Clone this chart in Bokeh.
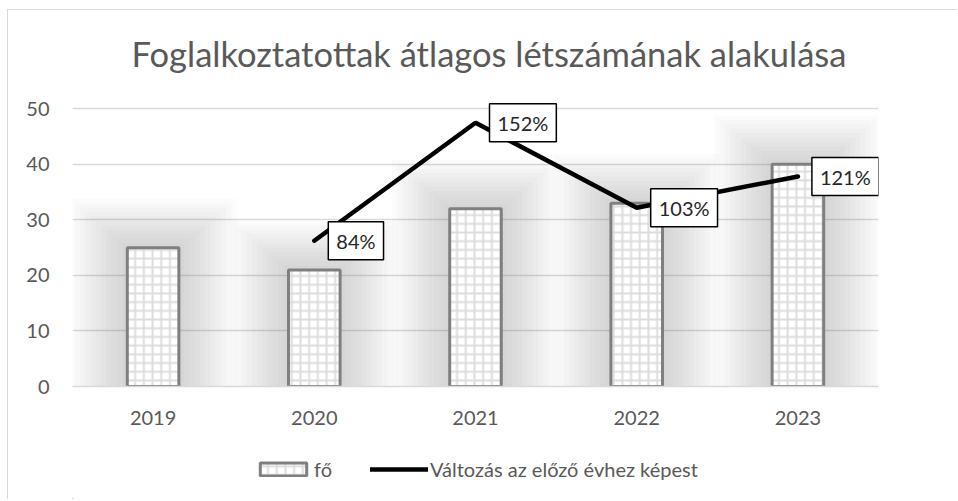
from bokeh.plotting import figure
from bokeh.models import Range1d, Legend, LegendItem, Label
from bokeh.layouts import column
from bokeh.embed import file_html
from bokeh.resources import INLINE

# ---- data ----
years = ["2019", "2020", "2021", "2022", "2023"]
fo = [25, 21, 32, 33, 40]
chg_years = ["2020", "2021", "2022", "2023"]
chg_pct = [84, 152, 103, 121]
chg_labels = ["84%", "152%", "103%", "121%"]
y_ticks = [0, 10, 20, 30, 40, 50]
title_text = "Foglalkoztatottak átlagos létszámának alakulása"
series_names = ["fő", "Változás az előző évhez képest"]

FONT = "Lato"
GREY_TXT = "#595959"
W = 949
OX, OY = 8, 10                       # inner origin of the chart on the page
H_T, H_M, H_L = 78, 357, 54          # title / main / legend strips
FL, FR, FB = 72, 878, 386            # frame edges on the page
PX_PER_UNIT = 5.553                  # vertical scale of the left axis
Y_TOP = 51.5                         # a little head-room so labels are not clipped
FT = FB - Y_TOP * PX_PER_UNIT
PCT_MAX = 160 * Y_TOP / 50           # hidden secondary axis: 0..160 % over 0..50

BAR_STYLE = dict(fill_color="white", line_color="#7f7f7f", line_width=3,
                 hatch_pattern="+", hatch_color="#dcdcdc", hatch_scale=8.7,
                 hatch_weight=2)
LINE_STYLE = dict(line_color="black", line_width=4.5, line_cap="round")


def blank(h):
    f = figure(width=W, height=h, output_backend="svg", toolbar_location=None,
               x_axis_location=None, y_axis_location=None,
               x_range=Range1d(0, 1), y_range=Range1d(0, 1),
               min_border=0, min_border_left=0, min_border_right=0,
               min_border_top=0, min_border_bottom=0)
    f.outline_line_color = None
    f.grid.grid_line_color = None
    f.background_fill_color = "white"
    f.border_fill_color = "white"
    return f


# ---- title strip (its frame is aligned with the main frame) ----
pt = blank(H_T)
pt.add_layout(Label(x=488.5 - FL, y=35, x_units="screen", y_units="screen",
                    text=title_text, text_align="center", text_baseline="alphabetic",
                    text_font=FONT, text_font_size="34.5px", text_color=GREY_TXT))

# ---- main plot ----
top0 = OY + H_T
p = figure(x_range=years, y_range=Range1d(0, Y_TOP), width=W, height=H_M,
           output_backend="svg", toolbar_location=None,
           min_border_left=FL - OX, min_border_right=OX + W - FR,
           min_border_top=round(FT - top0), min_border_bottom=top0 + H_M - FB)
p.extra_y_ranges = {"pct": Range1d(0, PCT_MAX)}
p.outline_line_color = None
p.background_fill_color = "white"
p.border_fill_color = "white"
p.xgrid.grid_line_color = None
p.ygrid.grid_line_color = "#d9d9d9"
p.ygrid.grid_line_width = 1.5
p.yaxis.ticker = y_ticks
for ax in (p.xaxis[0], p.yaxis[0]):
    ax.major_tick_line_color = None
    ax.minor_tick_line_color = None
    ax.major_tick_out = 0
    ax.major_tick_in = 0
    ax.major_label_text_font = FONT
    ax.major_label_text_font_size = "20px"
    ax.major_label_text_color = GREY_TXT
p.yaxis.axis_line_color = None
p.yaxis.major_label_standoff = 23
p.xaxis.axis_line_color = "#d9d9d9"
p.xaxis.axis_line_width = 1.5
p.xaxis.major_label_standoff = 24

# soft glow behind bars
for k in range(1, 12):
    p.vbar(x=years, top=[v + k * 0.8 for v in fo], width=0.32 + k * 0.065,
           fill_color="#808080", fill_alpha=0.032, line_color=None)

p.vbar(x=years, top=fo, width=0.32, **BAR_STYLE)
p.line(x=chg_years, y=chg_pct, y_range_name="pct", **LINE_STYLE)

for cy, v, t in zip(chg_years, chg_pct, chg_labels):
    p.add_layout(Label(x=years.index(cy) + 0.5, y=v, y_range_name="pct", text=t,
                       x_offset=14, text_align="left", text_baseline="middle",
                       text_font=FONT, text_font_size="20px", text_color="#262626",
                       background_fill_color="white", border_line_color="black",
                       border_line_width=1.5,
                       padding=dict(left=8, right=8, top=7, bottom=7)))

# ---- legend strip (frame aligned with the main frame) ----
pl = blank(H_L)
r_bar = pl.vbar(x=[-5], top=[-5], bottom=[-6], width=0.3, **BAR_STYLE)
r_line = pl.line(x=[-6, -5], y=[-5, -5], **LINE_STYLE)
legend = Legend(items=[LegendItem(label=series_names[0], renderers=[r_bar]),
                       LegendItem(label=series_names[1], renderers=[r_line])],
                orientation="horizontal", location=(254 - FL, 18),
                label_text_font=FONT, label_text_font_size="20px",
                label_text_color=GREY_TXT, glyph_width=58, glyph_height=16,
                label_standoff=2, spacing=36, border_line_color=None,
                background_fill_alpha=0, margin=0, padding=0)
pl.add_layout(legend, "center")

lay = column(pt, p, pl, spacing=0)
lay.styles = {"border-left": "1px solid #d9d9d9", "border-top": "1px solid #d9d9d9",
              "margin-left": "7px", "margin-top": "9px"}

open("out.html", "w").write(file_html(lay, INLINE))
